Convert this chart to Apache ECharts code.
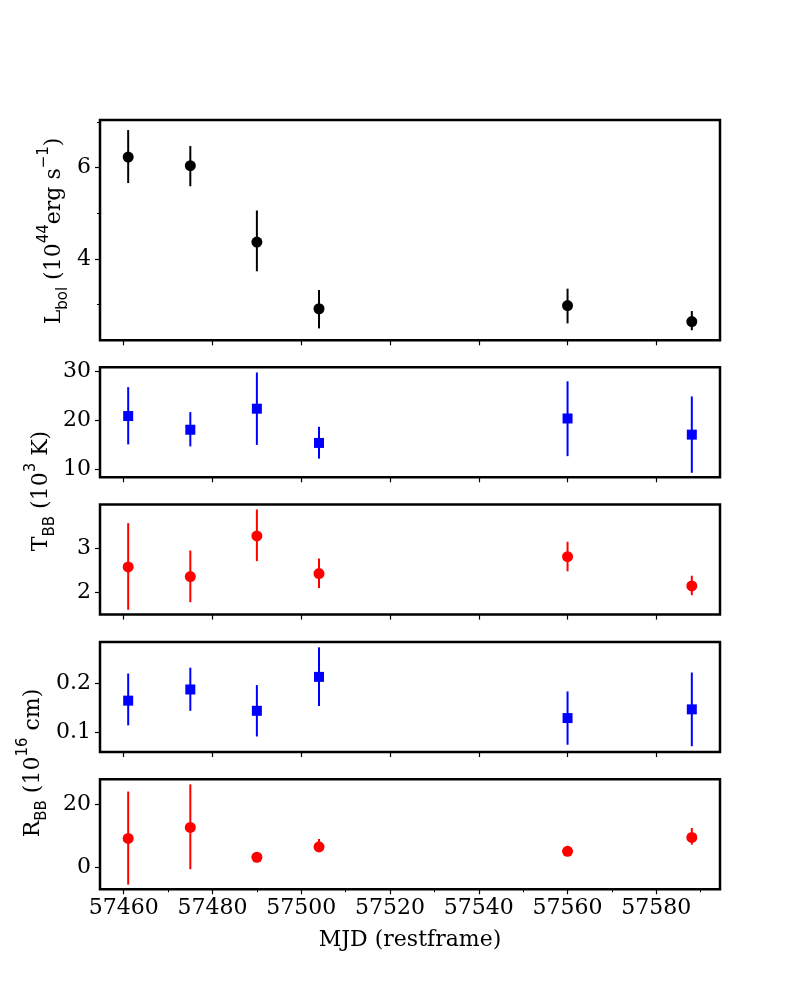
<!DOCTYPE html>
<html>
<head>
<meta charset="utf-8">
<script src="https://cdn.jsdelivr.net/npm/echarts@6/dist/echarts.min.js"></script>
<style>
  html, body { margin: 0; padding: 0; background: #fff; }
  #container { width: 800px; height: 1000px; }
</style>
</head>
<body>
<div id="container"></div>
<script>
// observation epochs (MJD, restframe)
var mjd = [57461, 57475, 57490, 57504, 57560, 57588];

// bolometric luminosity, 10^44 erg/s
var lbol   = [6.23, 6.04, 4.37, 2.91, 2.98, 2.63];
var lbolLo = [5.66, 5.59, 3.73, 2.48, 2.59, 2.44];
var lbolHi = [6.82, 6.47, 5.06, 3.32, 3.35, 2.86];

// temperature, blue component (10^3 K)
var tBlue   = [20.8, 18.0, 22.3, 15.3, 20.3, 17.0];
var tBlueLo = [15.0, 14.6, 14.9, 12.1, 12.6, 9.2];
var tBlueHi = [26.7, 21.6, 29.7, 18.6, 27.9, 24.8];

// temperature, red component
var tRed   = [2.57, 2.35, 3.27, 2.42, 2.80, 2.14];
var tRedLo = [1.60, 1.77, 2.70, 2.09, 2.47, 1.93];
var tRedHi = [3.56, 2.94, 3.87, 2.76, 3.14, 2.37];

// radius, blue component (10^16 cm)
var rBlue   = [0.165, 0.188, 0.144, 0.214, 0.129, 0.147];
var rBlueLo = [0.114, 0.144, 0.091, 0.154, 0.074, 0.071];
var rBlueHi = [0.221, 0.233, 0.197, 0.275, 0.184, 0.223];

// radius, red component
var rRed   = [9.2, 12.7, 3.2, 6.5, 5.1, 9.5];
var rRedLo = [-5.5, -0.6, 2.6, 4.8, 4.3, 7.2];
var rRedHi = [24.1, 26.4, 3.8, 9.0, 5.9, 12.5];

// tick labels
var xTicks = [57460, 57480, 57500, 57520, 57540, 57560, 57580];
var xMinor = [57470, 57490, 57510, 57530, 57550, 57570, 57590];
var yTicks = [[4, 6], [10, 20, 30], [2, 3], [0.1, 0.2], [0, 20]];
var yMinor0 = [3, 5, 7];
var yRanges = [[2.22, 7.04], [8.28, 30.76], [1.49, 3.98], [0.059, 0.286], [-7.0, 28.0]];

var dom = document.getElementById("container");
var myChart = echarts.init(dom);

var serif = 'DejaVu Serif';
var tops = [120, 367.3, 504.6, 642, 779.3];
var heights = [220.3, 110, 110, 110, 110];

var grids = [], xAxes = [], yAxes = [], series = [];

function errBar(color) {
    return function (params, api) {
        var p1 = api.coord([api.value(0), api.value(1)]);
        var p2 = api.coord([api.value(0), api.value(2)]);
        return {
            type: 'line',
            shape: { x1: p1[0], y1: p1[1], x2: p2[0], y2: p2[1] },
            style: { stroke: color, lineWidth: 2 }
        };
    };
}

var panels = [
    { v: lbol, lo: lbolLo, hi: lbolHi, color: '#000000', symbol: 'circle', size: 11 },
    { v: tBlue, lo: tBlueLo, hi: tBlueHi, color: '#0000ff', symbol: 'rect', size: 10 },
    { v: tRed, lo: tRedLo, hi: tRedHi, color: '#ff0000', symbol: 'circle', size: 11 },
    { v: rBlue, lo: rBlueLo, hi: rBlueHi, color: '#0000ff', symbol: 'rect', size: 10 },
    { v: rRed, lo: rRedLo, hi: rRedHi, color: '#ff0000', symbol: 'circle', size: 11 }
];

panels.forEach(function (p, i) {
    var last = i === panels.length - 1;
    grids.push({
        left: 100, width: 620, top: tops[i], height: heights[i],
        show: true, borderColor: '#000', borderWidth: 2.5, backgroundColor: 'transparent'
    });
    xAxes.push({
        type: 'value', gridIndex: i, position: 'bottom', min: 57454.65, max: 57594.35,
        axisLine: { show: false, onZero: false },
        splitLine: { show: false },
        axisTick: { show: true, length: 5, customValues: xTicks, lineStyle: { color: '#000', width: 1.2 } },
        axisLabel: {
            show: last, customValues: xTicks, margin: 8,
            formatter: function (v) { return String(v); },
            fontFamily: serif, fontSize: 22, color: '#000'
        },
        name: last ? 'MJD (restframe)' : '',
        nameLocation: 'middle', nameGap: 40,
        nameTextStyle: { fontFamily: serif, fontSize: 22, color: '#000' }
    });
    yAxes.push({
        type: 'value', gridIndex: i, position: 'left', min: yRanges[i][0], max: yRanges[i][1],
        axisLine: { show: false, onZero: false },
        splitLine: { show: false },
        axisTick: { show: true, length: 5, customValues: yTicks[i], lineStyle: { color: '#000', width: 1.2 } },
        axisLabel: {
            customValues: yTicks[i], margin: 9,
            fontFamily: serif, fontSize: 22, color: '#000'
        }
    });
    series.push({
        type: 'custom', xAxisIndex: i, yAxisIndex: i,
        renderItem: errBar(p.color),
        encode: { x: 0, y: [1, 2] },
        data: mjd.map(function (m, k) { return [m, p.lo[k], p.hi[k]]; }),
        z: 2, silent: true
    });
    series.push({
        type: 'scatter', xAxisIndex: i, yAxisIndex: i,
        symbol: p.symbol, symbolSize: p.size,
        itemStyle: { color: p.color, opacity: 1 },
        data: mjd.map(function (m, k) { return [m, p.v[k]]; }),
        z: 3, silent: true
    });
});

// minor ticks: bottom x axis and top panel y axis
xAxes.push({
    type: 'value', gridIndex: 4, position: 'bottom', min: 57454.65, max: 57594.35,
    axisLine: { show: false, onZero: false }, splitLine: { show: false }, axisLabel: { show: false },
    axisTick: { show: true, length: 3, customValues: xMinor, lineStyle: { color: '#000', width: 1 } }
});
yAxes.push({
    type: 'value', gridIndex: 0, position: 'left', min: yRanges[0][0], max: yRanges[0][1],
    axisLine: { show: false, onZero: false }, splitLine: { show: false }, axisLabel: { show: false },
    axisTick: { show: true, length: 3, customValues: yMinor0, lineStyle: { color: '#000', width: 1 } }
});

var labelRich = {
    n: { fontFamily: serif, fontSize: 22, color: '#000', lineHeight: 34 },
    sub: { fontFamily: 'DejaVu Sans', fontSize: 15, color: '#000', lineHeight: 25, verticalAlign: 'bottom' },
    sup: { fontFamily: 'DejaVu Sans', fontSize: 15, color: '#000', lineHeight: 13, verticalAlign: 'top' }
};

function yLabel(x, y, text) {
    return {
        type: 'text', x: x, y: y, rotation: Math.PI / 2,
        style: {
            text: text, x: 0, y: 0, rich: labelRich,
            align: 'center', verticalAlign: 'middle',
            textAlign: 'center', textVerticalAlign: 'middle'
        }
    };
}

option = {
    backgroundColor: '#fff',
    animation: false,
    grid: grids,
    xAxis: xAxes,
    yAxis: yAxes,
    series: series,
    graphic: [
        yLabel(54, 231, '{n|L}{sub|bol}{n| (10}{sup|44}{n|erg s}{sup|\u22121}{n|)}'),
        yLabel(41, 491, '{n|T}{sub|BB}{n| (10}{sup|3}{n| K)}'),
        yLabel(33, 763, '{n|R}{sub|BB}{n| (10}{sup|16}{n| cm)}')
    ]
};

if (option && typeof option === "object") {
    myChart.setOption(option, true);
}
</script>
</body>
</html>
